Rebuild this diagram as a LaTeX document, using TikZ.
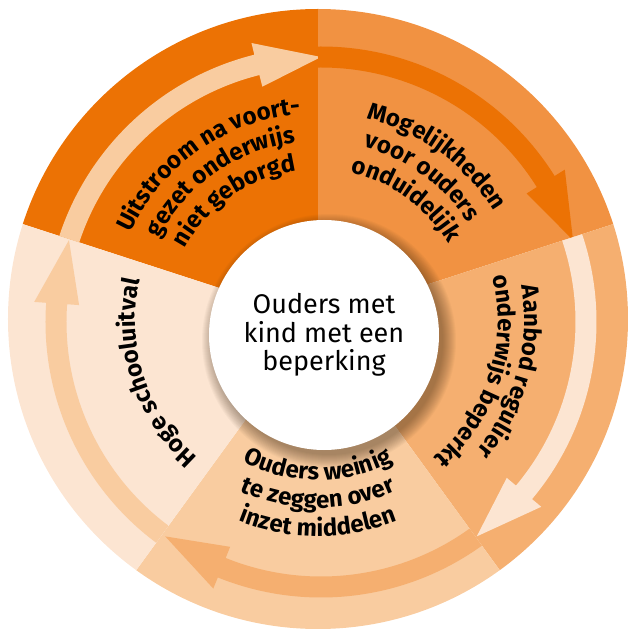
\documentclass[tikz,border=0pt]{standalone}
\usepackage{fontspec}
\setmainfont{Fira Sans}
\usetikzlibrary{decorations.text}

\definecolor{sectA}{RGB}{236,114,4}
\definecolor{sectB}{RGB}{241,146,66}
\definecolor{sectC}{RGB}{245,175,112}
\definecolor{sectD}{RGB}{249,204,160}
\definecolor{sectE}{RGB}{252,229,210}

\newcommand{\sectorfont}{\fontsize{24}{28}\selectfont\bfseries}
\newcommand{\kernfont}{\fontsize{27}{28.5}\selectfont}

% text running clockwise, tops outward
\newcommand{\cwtext}[3]
{
    \path [decorate,decoration={text along path,text align=center,
        text={|\sectorfont|#3}}]
        (#1+80:#2) arc [start angle=#1+80,end angle=#1-80,radius=#2];
}

% text running counterclockwise, tops inward
\newcommand{\ccwtext}[3]
{
    \path [decorate,decoration={text along path,text align=center,
        text={|\sectorfont|#3}}]
        (#1-80:#2) arc [start angle=#1-80,end angle=#1+80,radius=#2];
}

% curved arrow in the ring, from angle #1 to tip at angle #2
\newcommand{\ringarrow}[3]
{
    \fill [#3] (#1:254.5) arc [start angle=#1,end angle=#2+14,radius=254.5]
        -- (#2+14:242.5) -- (#2:265) -- (#2+14:287.5) -- (#2+14:275.5)
        arc [start angle=#2+14,end angle=#1,radius=275.5] -- cycle;
}

\begin{document}
\begin{tikzpicture}[x=1pt,y=1pt,
    shadowring/.style={black!70!brown,opacity=0.035},
    kernnode/.style={circle,fill=white,inner sep=0,minimum size=230,
        align=center,font=\kernfont,text=black}]

\useasboundingbox (-318,-309) rectangle (311,320);

% sectors

\begin{scope}
    \clip (0,1) circle [radius=310];
    \foreach \a/\col in {90/sectA,18/sectB,-54/sectC,-126/sectD,-198/sectE}
        \fill [\col] (0,0) -- (\a:330) arc [start angle=\a,end angle=\a+72,radius=330] -- cycle;
\end{scope}

% arrows

\foreach \a/\col in {162/sectD,90/sectA,18/sectE,-54/sectC,-126/sectD}
{
    \begin{scope}
        \clip (0,0) -- (\a:330) arc [start angle=\a,end angle=\a-72,radius=330] -- cycle;
        \begin{scope}[shift={(3,-2)}]
            \ringarrow{\a+4}{\a-72}{\col}
        \end{scope}
    \end{scope}
}

% centre with shadow

\foreach \r in {1,...,14}
    \fill [shadowring] (11,-21) circle [radius=113+\r];

\node (kern) [kernnode] at (6,-15) {Ouders met\\kind met een\\beperking};

% sector texts

\cwtext{125}{207}{Uitstroom na voort-}
\cwtext{125}{179}{gezet onderwijs}
\cwtext{125}{151}{niet geborgd}

\cwtext{54}{207}{Mogelijkheden}
\cwtext{54}{179}{voor ouders}
\cwtext{54}{151}{onduidelijk}

\cwtext{-15}{206}{Aanbod regulier}
\cwtext{-18}{180}{onderwijs beperkt}

\ccwtext{-90}{160}{Ouders weinig}
\ccwtext{-90}{188}{te zeggen over}
\ccwtext{-90}{216}{inzet middelen}

\cwtext{198}{183}{Hoge schooluitval}

\end{tikzpicture}
\end{document}
